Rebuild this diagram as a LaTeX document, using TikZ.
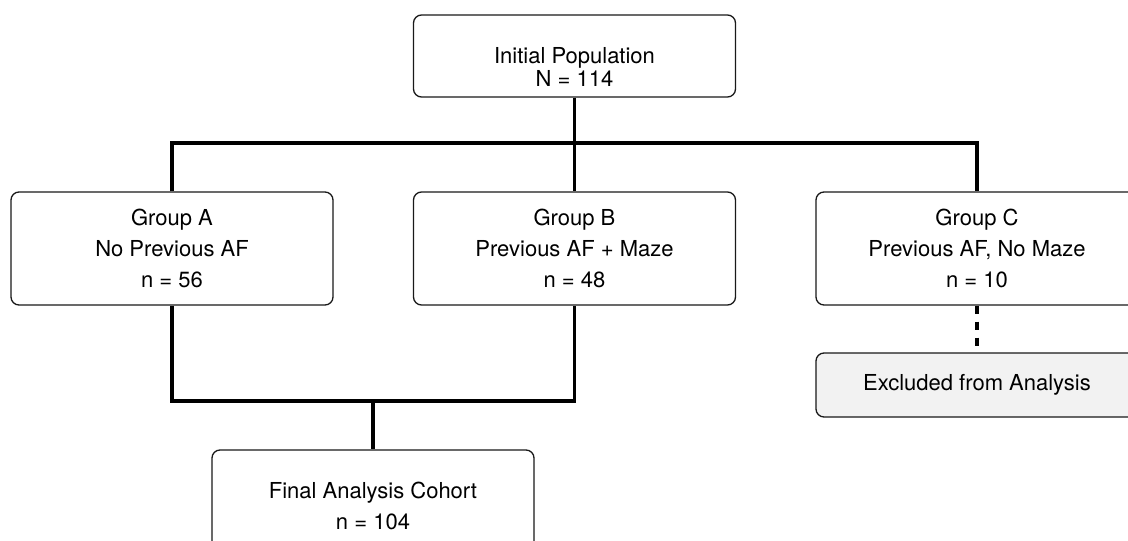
\documentclass[tikz,border=0pt]{standalone}
\usepackage{fontspec}
\setmainfont{TeX Gyre Heros}
\usetikzlibrary{arrows}
\tikzset{>=latex}

\begin{document}
\begin{tikzpicture}[x=1pt, y=-1pt]

    % pixel grid of the flow chart, y going down
    \tikzstyle{every node}=[font=\fontsize{22}{31}\selectfont, align=center, node distance=402.5pt]
    \tikzstyle{box}=[draw=black!90, line width=1.3pt, rounded corners=8pt, minimum width=322pt, minimum height=113pt, inner sep=0pt]
    \tikzstyle{conn}=[black, line width=3.1pt]
    \useasboundingbox (0,0) rectangle (1128,541);
    \clip (0,0) rectangle (1128,541);

    \node[box, minimum height=82pt] (init) at (574.5,56) {};
    \node[font=\fontsize{22}{23.5}\selectfont] (initlbl) at (574.5,67) {Initial Population\\N = 114};

    \node[box] (B) at (574.5,248.5) {Group B\\Previous AF + Maze\\n = 48};
    \node[box] (A) [left of = B] {Group A\\No Previous AF\\n = 56};
    \node[box] (C) [right of = B] {Group C\\Previous AF, No Maze\\n = 10};

    \node[box, fill=gray!10, minimum height=64pt] (excl) at (977,385) {Excluded from Analysis};
    \node[box, minimum height=112pt] (final) at (373,506) {Final Analysis Cohort\\n = 104};

    \coordinate (split) at (574.5,143);
    \coordinate (merge) at (373,401);

    \draw[conn] (init.south) -- (B.north);
    \draw[conn] (A.north) -- (A.north |- split) -- (C.north |- split) -- (C.north);
    \draw[conn] (A.south) -- (A.south |- merge) -- (B.south |- merge) -- (B.south);
    \draw[conn] (merge) -- (final.north);
    % excluded branch
    \draw[conn, dash pattern=on 8pt off 8pt] (C.south) -- (excl.north);
\end{tikzpicture}
\end{document}
